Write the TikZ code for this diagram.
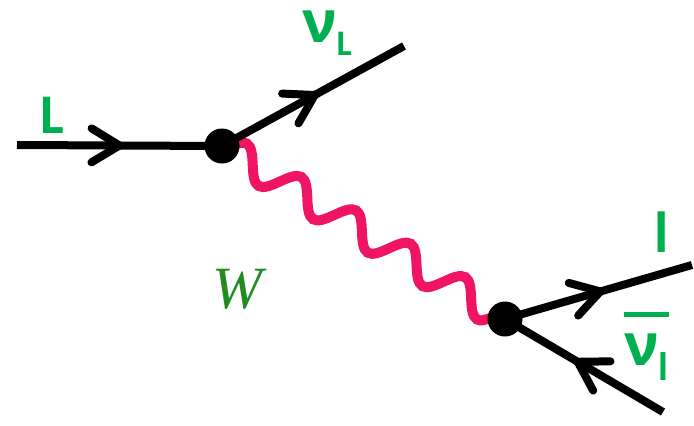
\documentclass[tikz,border=0pt]{standalone}
\usepackage{fontspec}
\setmainfont{Carlito}
\newfontfamily\wfont{Liberation Serif}
\newfontfamily\nufont{Open Sans}
\usetikzlibrary{decorations.pathmorphing,decorations.markings}
\definecolor{lbl}{RGB}{0,176,80}
\definecolor{wgreen}{RGB}{34,139,34}
\definecolor{boson}{RGB}{240,20,100}
\tikzset{
  fermion/.style={line width=8pt, draw=black, postaction={decorate},
    decoration={markings, mark=at position #1 with {\draw[line width=8pt, line cap=round, line join=miter] (-28pt,17pt) -- (0pt,0pt) -- (-28pt,-17pt);}}},
  wboson/.style={draw=boson, line width=10pt, line cap=round, decorate,
    decoration={snake, segment length=64pt, amplitude=15pt, pre length=0pt, post length=0pt}},
  vertexdot/.style={circle, fill=black, minimum size=35pt, inner sep=0pt},
  lab/.style={text=lbl, inner sep=0pt, anchor=base west},
}
\newcommand{\nuglyph}{{\nufont\bfseries\fontsize{58}{58}\selectfont ν}}
\begin{document}
\begin{tikzpicture}[x=1pt,y=-1pt]
\useasboundingbox[fill=white] (0,0) rectangle (694,426);
\coordinate (v1) at (222,146);
\coordinate (v2) at (505,319);
\coordinate (inL) at (17,145);
\coordinate (outnu) at (404,46);
\coordinate (outl) at (692,265);
\coordinate (innubar) at (663,412);
% W boson
\draw[wboson] (v1) -- (v2);
% fermion lines
\draw[fermion=0.5] (inL) -- (v1);
\draw[fermion=0.51] (v1) -- (outnu);
\draw[fermion=0.51] (v2) -- (outl);
\draw[fermion=0.54] (innubar) -- (v2);
% vertices
\node[vertexdot] (dot1) at (v1) {};
\node[vertexdot] (dot2) at (v2) {};
% labels
\node[lab, font=\fontsize{56}{56}\selectfont\bfseries] (labL) at (40,133) {L};
\node[lab, font=\bfseries] (labnuL) at (302,42) {\nuglyph{\fontsize{36}{36}\selectfont\raisebox{-13pt}{L}}};
\node[lab, font=\fontsize{58}{58}\selectfont\bfseries] (labl) at (654,252) {l};
\node[lab, font=\bfseries] (labnubar) at (624,365) {\vbox{\hrule height 5pt\kern 16pt\hbox{\nuglyph{\fontsize{40}{40}\selectfont\raisebox{-15pt}{l}}}}};
\node[anchor=base west, inner sep=0pt, text=wgreen, font=\wfont\itshape\fontsize{60}{60}\selectfont] (labW) at (212,308) {W};
\end{tikzpicture}
\end{document}
